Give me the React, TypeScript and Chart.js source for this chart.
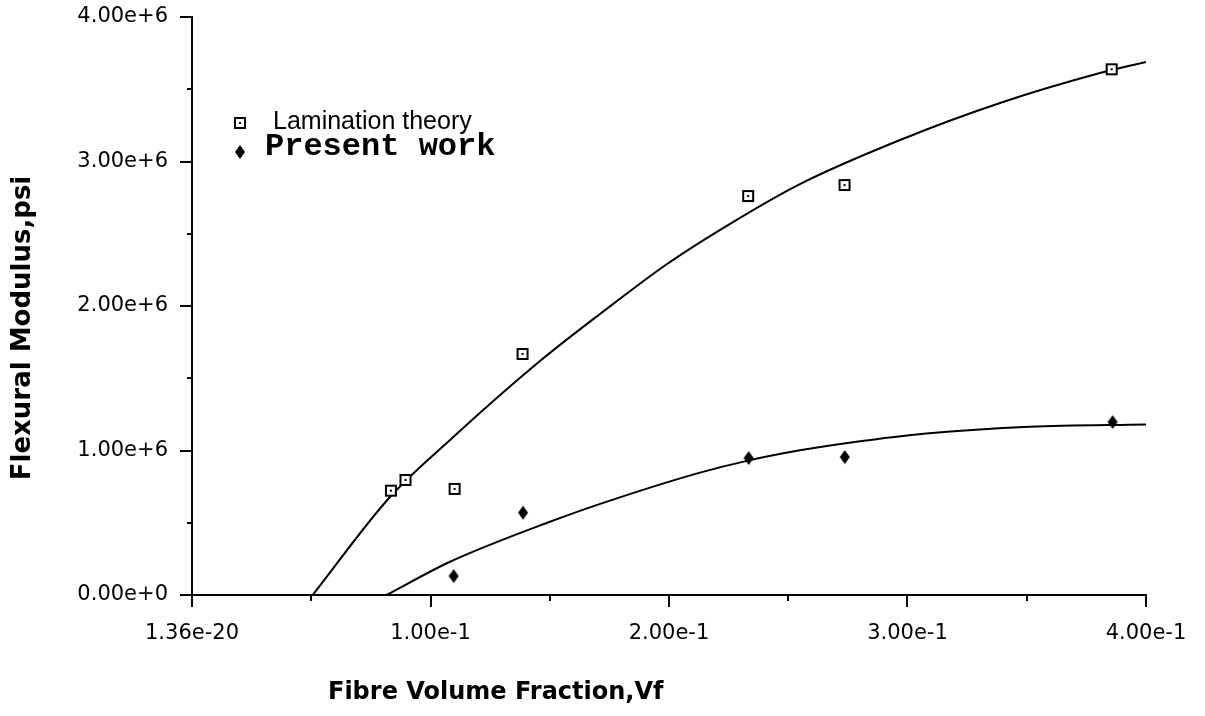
import React, { useEffect, useRef } from "react";
import { Chart, registerables } from "chart.js";

Chart.register(...registerables);

// ---- data ----
const xTickLabels = ["1.36e-20", "1.00e-1", "2.00e-1", "3.00e-1", "4.00e-1"];
const yTickLabels = ["0.00e+0", "1.00e+6", "2.00e+6", "3.00e+6", "4.00e+6"];

const laminationVf = [0.0834, 0.0895, 0.1101, 0.1386, 0.2332, 0.2736, 0.3856];
const laminationModulus = [722000, 796000, 734000, 1668000, 2761000, 2837000, 3638000];

const presentVf = [0.1097, 0.1388, 0.2334, 0.2737, 0.386];
const presentModulus = [131000, 570000, 948000, 955000, 1197000];

const upperFitVf = [0.0506, 0.083, 0.1082, 0.1459, 0.1711, 0.1992, 0.2268, 0.2549, 0.2969, 0.3388, 0.3807, 0.4];
const upperFitModulus = [0, 678000, 1073000, 1619000, 1945000, 2291000, 2581000, 2844000, 3149000, 3405000, 3612000, 3689000];

const lowerFitVf = [0.0816, 0.1082, 0.1501, 0.1765, 0.213, 0.2331, 0.2549, 0.2771, 0.3078, 0.3514, 0.4];
const lowerFitModulus = [0, 230000, 507000, 660000, 847000, 930000, 1001000, 1057000, 1118000, 1165000, 1180000];

const xMinorTicks = [0.05, 0.15, 0.25, 0.35];
const yMinorTicks = [500000, 1500000, 2500000, 3500000];

const legendLabels = ["Lamination theory", "Present work"];
const xTitle = "Fibre Volume Fraction,Vf";
const yTitle = "Flexural Modulus,psi";

function zip(xs: number[], ys: number[]) {
  return xs.map((x, i) => ({ x, y: ys[i] }));
}

function makeSquare(): HTMLCanvasElement {
  const c = document.createElement("canvas");
  c.width = 14;
  c.height = 14;
  const g = c.getContext("2d")!;
  g.fillStyle = "#fff";
  g.fillRect(1, 1, 12, 12);
  g.strokeStyle = "#000";
  g.lineWidth = 2;
  g.strokeRect(2, 2, 10, 10);
  g.fillStyle = "#000";
  g.fillRect(6, 6, 2, 2);
  return c;
}

function makeDiamond(): HTMLCanvasElement {
  const c = document.createElement("canvas");
  c.width = 12;
  c.height = 16;
  const g = c.getContext("2d")!;
  g.fillStyle = "#000";
  g.beginPath();
  g.moveTo(6, 1);
  g.lineTo(11, 8);
  g.lineTo(6, 15);
  g.lineTo(1, 8);
  g.closePath();
  g.fill();
  return c;
}

export default function App() {
  const ref = useRef<HTMLCanvasElement | null>(null);

  useEffect(() => {
    if (!ref.current) return;
    const square = makeSquare();
    const diamond = makeDiamond();

    const decor = {
      id: "decor",
      afterDraw(chart: any) {
        const ctx = chart.ctx as CanvasRenderingContext2D;
        const xs = chart.scales.x;
        const ys = chart.scales.y;
        const area = chart.chartArea;
        ctx.save();
        ctx.strokeStyle = "#000";
        ctx.lineWidth = 2;
        // minor ticks
        xMinorTicks.forEach((v) => {
          const px = Math.round(xs.getPixelForValue(v));
          ctx.beginPath();
          ctx.moveTo(px, area.bottom);
          ctx.lineTo(px, area.bottom + 6);
          ctx.stroke();
        });
        yMinorTicks.forEach((v) => {
          const py = Math.round(ys.getPixelForValue(v));
          ctx.beginPath();
          ctx.moveTo(area.left, py);
          ctx.lineTo(area.left - 5, py);
          ctx.stroke();
        });
        // legend
        ctx.fillStyle = "#000";
        ctx.drawImage(square, 240 - 7, 123 - 7);
        ctx.drawImage(diamond, 240 - 6, 152 - 8);
        ctx.textBaseline = "middle";
        ctx.textAlign = "left";
        ctx.font = "25px 'Liberation Sans'";
        ctx.fillText(legendLabels[0], 273, 122);
        ctx.font = "bold 32px 'Liberation Mono'";
        ctx.fillText(legendLabels[1], 265, 147);
        // axis titles
        ctx.font = "bold 24px 'DejaVu Sans'";
        ctx.fillText(xTitle, 328, 693);
        ctx.translate(23, 328);
        ctx.rotate(-Math.PI / 2);
        ctx.textAlign = "center";
        ctx.font = "bold 26px 'DejaVu Sans'";
        ctx.fillText(yTitle, 0, 0);
        ctx.restore();
      },
    };

    const tickFont = { family: "'DejaVu Sans'", size: 21 };

    const chart = new Chart(ref.current, {
      type: "scatter",
      data: {
        datasets: [
          {
            label: "Lamination theory fit",
            data: zip(upperFitVf, upperFitModulus),
            showLine: true,
            borderColor: "#000",
            borderWidth: 2,
            pointRadius: 0,
            cubicInterpolationMode: "monotone",
            order: 2,
          } as any,
          {
            label: "Present work fit",
            data: zip(lowerFitVf, lowerFitModulus),
            showLine: true,
            borderColor: "#000",
            borderWidth: 2,
            pointRadius: 0,
            cubicInterpolationMode: "monotone",
            order: 2,
          } as any,
          {
            label: legendLabels[0],
            data: zip(laminationVf, laminationModulus),
            showLine: false,
            pointStyle: square,
            pointRadius: 7,
            order: 0,
          } as any,
          {
            label: legendLabels[1],
            data: zip(presentVf, presentModulus),
            showLine: false,
            pointStyle: diamond,
            pointRadius: 7,
            order: 0,
          } as any,
        ],
      },
      options: {
        responsive: false,
        animation: false,
        devicePixelRatio: 1,
        layout: { padding: { top: 17, right: 59, left: 0, bottom: 0 } },
        plugins: {
          legend: { display: false },
          tooltip: { enabled: false },
          title: { display: false },
        },
        scales: {
          x: {
            type: "linear",
            min: 0,
            max: 0.4,
            afterFit: (s: any) => {
              s.height = 121;
              s.paddingLeft = 0;
              s.paddingRight = 0;
            },
            border: { display: true, color: "#000", width: 2 },
            grid: {
              display: true,
              drawOnChartArea: false,
              drawTicks: true,
              tickLength: 12,
              color: "#000",
              lineWidth: 2,
            },
            ticks: {
              stepSize: 0.1,
              autoSkip: false,
              maxRotation: 0,
              color: "#000",
              font: tickFont,
              padding: 14,
              callback: (_v: any, i: number) => xTickLabels[i],
            },
          },
          y: {
            type: "linear",
            min: 0,
            max: 4000000,
            afterFit: (s: any) => {
              s.width = 192;
              s.paddingTop = 0;
              s.paddingBottom = 0;
            },
            border: { display: true, color: "#000", width: 2 },
            grid: {
              display: true,
              drawOnChartArea: false,
              drawTicks: true,
              tickLength: 12,
              color: "#000",
              lineWidth: 2,
            },
            ticks: {
              stepSize: 1000000,
              autoSkip: false,
              color: "#000",
              font: tickFont,
              padding: 12,
              callback: (_v: any, i: number) => yTickLabels[i],
            },
          },
        },
      } as any,
      plugins: [decor],
    });

    return () => chart.destroy();
  }, []);

  return (
    <div style={{ position: "absolute", left: 0, top: 0, width: 1205, height: 716, background: "#fff" }}>
      <canvas ref={ref} width={1205} height={716} style={{ display: "block" }} />
    </div>
  );
}
